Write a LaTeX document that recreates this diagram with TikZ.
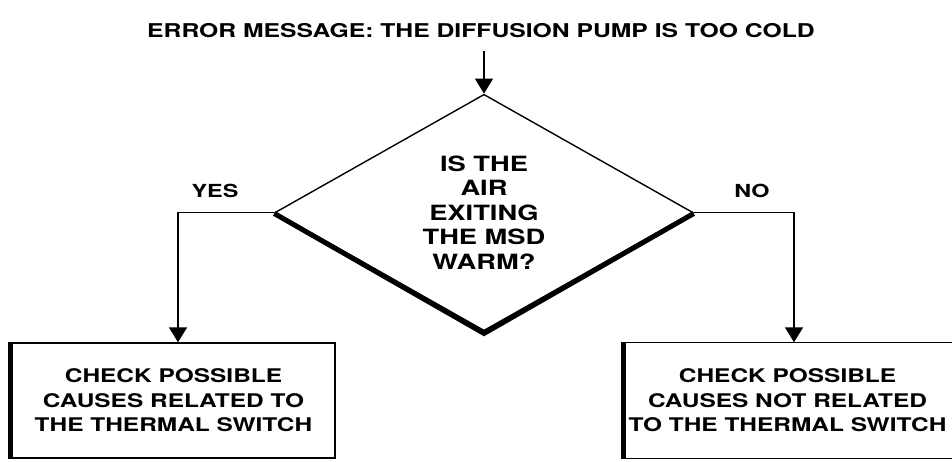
\documentclass[tikz,border=0pt]{standalone}
\usepackage{fontspec}
\setmainfont{TeX Gyre Heros}[FakeStretch=1.3]
\usetikzlibrary{arrows.meta,positioning,shapes.geometric}

\begin{document}
\begin{tikzpicture}[
  x=1pt, y=-1pt, line width=1.4pt, >={Triangle[length=15pt,width=18pt]},
  font=\bfseries\fontsize{18.8}{24.5}\selectfont,
  ttl/.style={font=\bfseries\fontsize{19}{24}\selectfont},
  decision/.style={diamond, draw, minimum width=418pt, minimum height=169pt, inner sep=0pt,
    align=center, font=\bfseries\fontsize{21}{24.5}\selectfont},
  actbox/.style={rectangle, draw, minimum height=115pt, align=center},
  shade/.style={line width=5pt},
  ans/.style={font=\bfseries\fontsize{18}{22}\selectfont},
]
\useasboundingbox (0,0) rectangle (952,461);
\clip (0,0) rectangle (952,461);
% ---------------- question ----------------
\node[ttl] (title) at (481,31) {ERROR MESSAGE: THE DIFFUSION PUMP IS TOO COLD};
\node[decision] (q) at (484,212.5) {IS THE\\AIR\\EXITING\\THE MSD\\WARM?};
\draw[shade] ([yshift=-1pt]q.west) -- ([yshift=-2pt]q.south) -- ([yshift=-1pt]q.east);

% ---------------- outcomes ----------------
\node[actbox, minimum width=323pt] (yes) at (173.5,400.5)
  {CHECK POSSIBLE\\CAUSES RELATED TO\\THE THERMAL SWITCH};
\node[actbox, draw=none, minimum width=325pt] (no) at (787.5,400.5)
  {CHECK POSSIBLE\\CAUSES NOT RELATED\\TO THE THERMAL SWITCH};
\draw (no.north west) rectangle ([xshift=12pt]no.south east); % runs off the page
\draw[shade] ([xshift=-1pt]yes.north west) -- ([xshift=-1pt]yes.south west);
\draw[shade] ([xshift=-1pt]no.north west) -- ([xshift=-1pt]no.south west);

\node[ans] (ylbl) at (215,191) {YES};
\node[ans] (nlbl) at (752,191) {NO};

% ---------------- connectors ----------------
\draw[->] ([yshift=-9pt]title.south -| q.north) -- (q.north);
\draw[->] (q.west) -| ([xshift=4.5pt]yes.north);
\draw[->] (q.east) -| ([xshift=6.5pt]no.north);
\end{tikzpicture}
\end{document}
